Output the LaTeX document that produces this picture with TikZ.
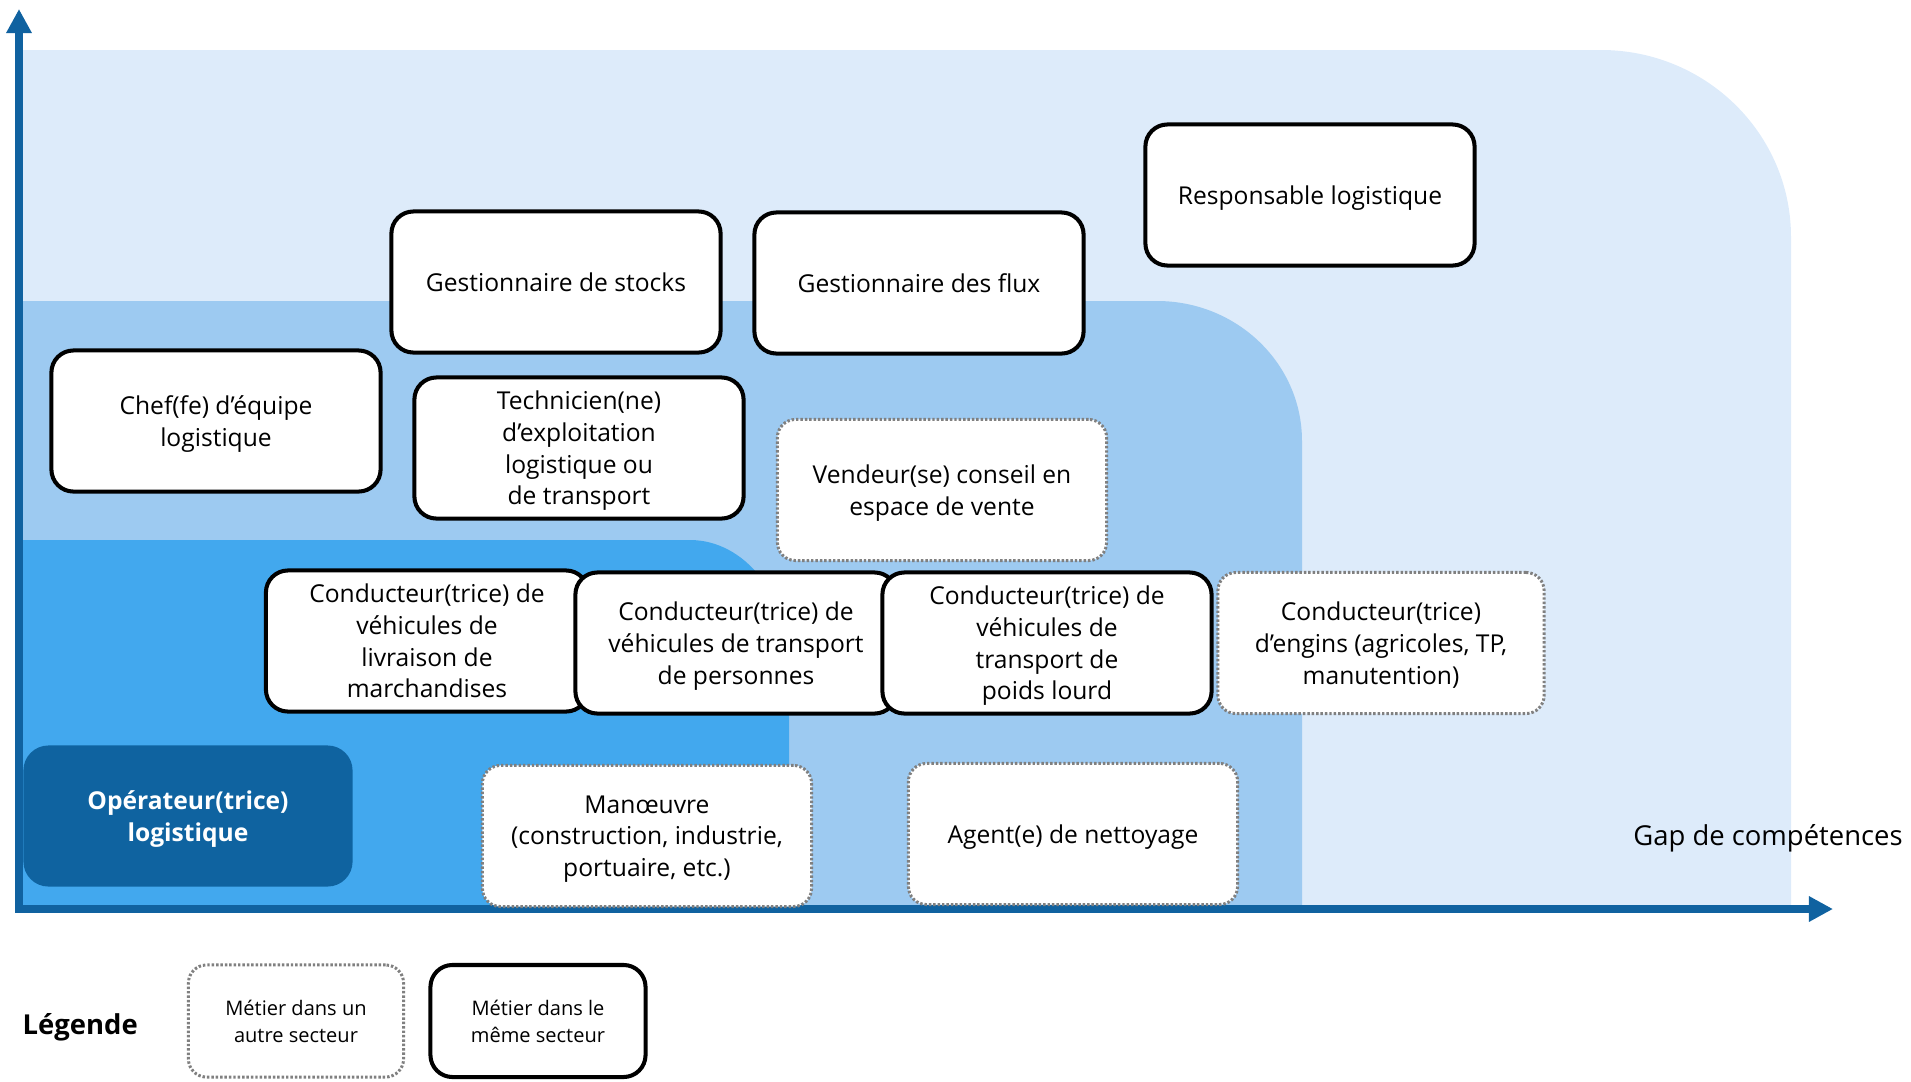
\documentclass[tikz,border=0pt]{standalone}
\usepackage{fontspec}
\setmainfont{Open Sans}
\usepackage{tikz}
\usetikzlibrary{arrows.meta}
\definecolor{fondclair}{RGB}{221,235,250}
\definecolor{fondmoyen}{RGB}{157,202,241}
\definecolor{fondfonce}{RGB}{66,168,238}
\definecolor{bleuaxe}{RGB}{16,98,160}
\definecolor{bleuop}{RGB}{15,99,160}
\definecolor{gristrait}{RGB}{128,128,128}
\newcommand{\txtbox}{\fontsize{7}{9}\selectfont}
\newcommand{\txtleg}{\fontsize{5.7}{7.6}\selectfont}
\tikzset{>={Triangle[length=0.24cm,width=0.24cm]}}
\tikzset{
  metier/.style={draw=black,line width=1.15pt,fill=white,rounded corners=0.22cm,
    minimum width=3.29cm,minimum height=1.41cm,inner sep=0pt,align=center,font=\txtbox,
    text depth=0pt},
  autre/.style={metier,draw=gristrait,line width=0.85pt,dash pattern=on 0.7pt off 0.55pt,
    rounded corners=0.18cm},
}

\begin{document}
\begin{tikzpicture}[x=0.01cm,y=-0.01cm]
  \useasboundingbox (0,0) rectangle (1911,1081);
  \coordinate (O) at (19,909);
  \coordinate (ytop) at (19,9);
  \coordinate (xend) at (1833,909);
  \fill[fondclair] (O) |- (1601,50) arc[start angle=-90,end angle=0,x radius=190,y radius=187] |- (O);
  \fill[fondmoyen] (O) |- (1157,301) arc[start angle=-90,end angle=0,x radius=145,y radius=140] |- (O);
  \fill[fondfonce] (O) |- (690,540) arc[start angle=-90,end angle=0,x radius=99,y radius=125] |- (O);
  \draw[<->,bleuaxe,line width=2.3pt] (ytop) -- (O) -- (xend);

  \node[metier] (stocks) at (556,282) {Gestionnaire de stocks};
  \node[metier] (flux) at (919,283) {Gestionnaire des flux};
  \node[metier] (resp) at (1310,195) {Responsable logistique};
  \node[metier] (chef) at (216,421) {Chef(fe) d’équipe\\logistique};
  \node[metier] (tech) at (579,448) {Technicien(ne)\\d’exploitation\\logistique ou\\de transport};
  \node[autre] (vendeur) at (942,490) {Vendeur(se) conseil en\\espace de vente};
  \node[metier,minimum width=3.22cm] (livraison) at (427,641) {Conducteur(trice) de\\véhicules de\\livraison de\\marchandises};
  \node[metier,minimum width=3.21cm] (personnes) at (736,643) {Conducteur(trice) de\\véhicules de transport\\de personnes};
  \node[metier] (poids) at (1047,643) {Conducteur(trice) de\\véhicules de\\transport de\\poids lourd};
  \node[autre,minimum width=3.26cm] (engins) at (1381,643) {Conducteur(trice)\\d’engins (agricoles, TP,\\manutention)};
  \node[autre] (manoeuvre) at (647,836) {Manœuvre\\(construction, industrie,\\portuaire, etc.)};
  \node[autre] (nettoyage) at (1073,834) {Agent(e) de nettoyage};
  \node[metier,draw=none,fill=bleuop,text=white,font=\txtbox\bfseries,rounded corners=0.25cm] (operateur) at (188,816) {Opérateur(trice)\\logistique};

  \node[font=\fontsize{7.8}{9}\selectfont\bfseries,anchor=west,inner sep=0pt] (legende) at (22,1027) {Légende};
  \node[autre,minimum width=2.15cm,minimum height=1.12cm,font=\txtleg] (legautre) at (296,1021) {Métier dans un\\autre secteur};
  \node[metier,minimum width=2.15cm,minimum height=1.12cm,font=\txtleg] (legmeme) at (538,1021) {Métier dans le\\même secteur};
  \node[font=\fontsize{7.8}{9}\selectfont] (gap) at (1768,838) {Gap de compétences};
\end{tikzpicture}
\end{document}
